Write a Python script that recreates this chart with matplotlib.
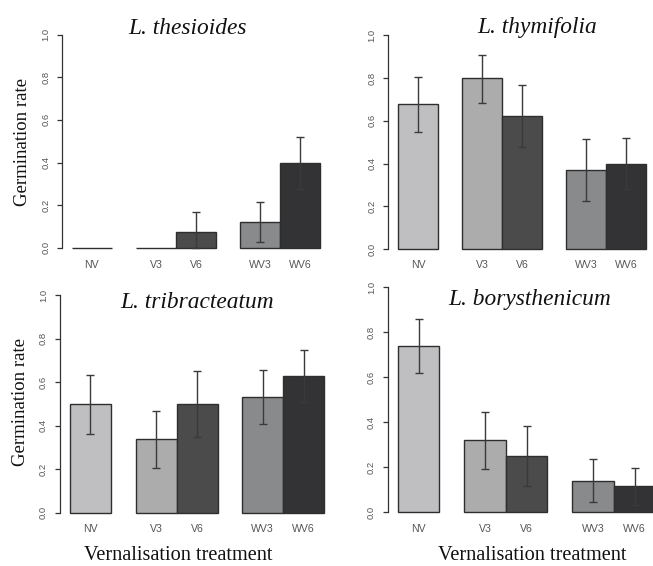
import matplotlib
matplotlib.use("Agg")
import matplotlib.pyplot as plt

# ---------------- data ----------------
treatments = ["NV", "V3", "V6", "WV3", "WV6"]
species = ["L. thesioides", "L. thymifolia", "L. tribracteatum", "L. borysthenicum"]

thesioides_rate = [0.0, 0.0, 0.075, 0.119, 0.40]
thesioides_low = [0.0, 0.0, 0.0, 0.028, 0.277]
thesioides_high = [0.0, 0.0, 0.166, 0.216, 0.52]

thymifolia_rate = [0.677, 0.80, 0.622, 0.370, 0.40]
thymifolia_low = [0.549, 0.685, 0.477, 0.223, 0.279]
thymifolia_high = [0.803, 0.906, 0.768, 0.516, 0.521]

tribracteatum_rate = [0.50, 0.337, 0.50, 0.534, 0.630]
tribracteatum_low = [0.363, 0.207, 0.348, 0.408, 0.511]
tribracteatum_high = [0.635, 0.469, 0.650, 0.658, 0.750]

borysthenicum_rate = [0.738, 0.320, 0.250, 0.138, 0.116]
borysthenicum_low = [0.618, 0.193, 0.119, 0.044, 0.031]
borysthenicum_high = [0.858, 0.447, 0.382, 0.239, 0.199]

yticks = [0.0, 0.2, 0.4, 0.6, 0.8, 1.0]
ylabel = "Germination rate"
xlabel = "Vernalisation treatment"

# ---------------- style ----------------
bar_colors = ["#bfbfc1", "#acacac", "#4b4b4b", "#898a8c", "#333335"]
bar_pos = [0.5, 2.1, 3.1, 4.7, 5.7]

W, H = 653, 566
fig = plt.figure(figsize=(W / 100, H / 100), dpi=100)
fig.patch.set_facecolor("white")

serif = ["Liberation Serif", "DejaVu Serif"]
sans = ["Liberation Sans", "DejaVu Sans"]

# panel geometry in pixels: (left axis x, unit px per bar, y of 0, y of 1)
panels = [
    (62.0, 40.0, 247.7, 34.7),
    (388.1, 40.0, 249.0, 35.3),
    (59.8, 41.0, 512.7, 295.3),
    (387.7, 41.5, 512.3, 287.3),
]
data = [
    (thesioides_rate, thesioides_low, thesioides_high),
    (thymifolia_rate, thymifolia_low, thymifolia_high),
    (tribracteatum_rate, tribracteatum_low, tribracteatum_high),
    (borysthenicum_rate, borysthenicum_low, borysthenicum_high),
]
title_pos = [(188, 28), (537, 27), (197, 302), (530, 300)]
ylabel_pos = [(23, 142), None, (21, 402), None]
xlabel_pos = [None, None, (178, 555), (532, 555)]
xtick_y = [265.5, 265.5, 528.5, 529.5]

xmin, xmax = -0.248, 6.448
for i, (lx, unit, y0, y1) in enumerate(panels):
    per = y0 - y1
    top = y1 - 0.04 * per
    bot = y0 + 0.04 * per
    wpx = (xmax - xmin) * unit
    ax = fig.add_axes([lx / W, 1 - bot / H, wpx / W, (bot - top) / H])
    ax.set_xlim(xmin, xmax)
    ax.set_ylim(-0.04, 1.04)
    rate, low, high = data[i]
    ax.bar(bar_pos, rate, width=1.0, color=bar_colors,
           edgecolor="#2e2e2e", linewidth=1.0, zorder=2)
    for x, r, lo, hi in zip(bar_pos, rate, low, high):
        if hi - lo <= 0:
            continue
        ax.errorbar([x], [r], yerr=[[r - lo], [hi - r]], fmt="none",
                    ecolor="#3a3a3a", elinewidth=1.0, capsize=3.0,
                    capthick=1.0, zorder=3)
    for s in ["top", "right", "bottom"]:
        ax.spines[s].set_visible(False)
    ax.spines["left"].set_bounds(0, 1)
    ax.spines["left"].set_color("#333333")
    ax.spines["left"].set_linewidth(0.9)
    ax.set_yticks(yticks)
    ax.set_yticklabels(["%.1f" % v for v in yticks], rotation=90,
                       va="center", fontsize=6.8, color="#555555",
                       family=sans)
    ax.tick_params(axis="y", length=3.5, width=0.9, color="#333333", pad=5)
    ax.set_xticks([])
    ax.patch.set_alpha(0)
    # x labels (names under bars)
    for x, name in zip(bar_pos, treatments):
        px = lx + (x - xmin) * unit
        fig.text(px / W, 1 - xtick_y[i] / H, name, ha="center", va="center",
                 fontsize=7.6, color="#555555", family=sans)
    tx, ty = title_pos[i]
    fig.text(tx / W, 1 - ty / H, species[i], ha="center", va="center",
             fontsize=16.8, style="italic", family=serif, color="#111111")
    if ylabel_pos[i]:
        yx, yy = ylabel_pos[i]
        fig.text(yx / W, 1 - yy / H, ylabel, ha="center", va="center",
                 rotation=90, fontsize=13.5, family=serif, color="#111111")
    if xlabel_pos[i]:
        xx, xy = xlabel_pos[i]
        fig.text(xx / W, 1 - xy / H, xlabel, ha="center", va="center",
                 fontsize=14.6, family=serif, color="#111111")

fig.savefig("out.png", dpi=100, facecolor="white")
